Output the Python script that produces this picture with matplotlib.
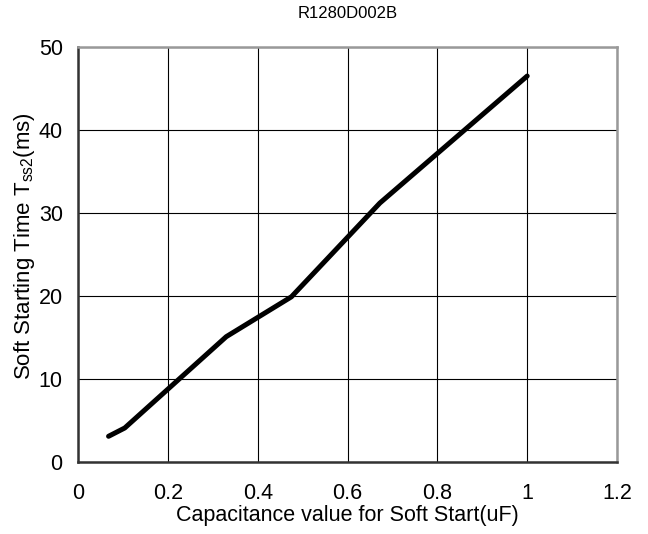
import matplotlib
matplotlib.use('Agg')
import matplotlib.pyplot as plt

plt.rcParams['font.family'] = ['Liberation Sans', 'DejaVu Sans']
plt.rcParams['mathtext.fontset'] = 'custom'
plt.rcParams['mathtext.rm'] = 'Liberation Sans'

# capacitance (uF) vs soft start time (ms)
cap = [0.068, 0.104, 0.33, 0.475, 0.672, 1.0]
tss = [3.1, 4.1, 15.1, 19.9, 31.2, 46.5]
xticks = [0, 0.2, 0.4, 0.6, 0.8, 1, 1.2]
xticklabels = ['0', '0.2', '0.4', '0.6', '0.8', '1', '1.2']
yticks = [0, 10, 20, 30, 40, 50]

fig = plt.figure(figsize=(6.48, 5.34), dpi=100)
ax = fig.add_axes([0.1204, 0.1348, 0.8318, 0.7772])

ax.plot(cap, tss, color='black', linewidth=3.6, solid_capstyle='round', solid_joinstyle='round', zorder=3)

ax.set_xlim(0, 1.2)
ax.set_ylim(0, 50)
ax.set_xticks(xticks)
ax.set_xticklabels(xticklabels)
ax.set_yticks(yticks)
ax.grid(True, color='black', linewidth=0.8)
ax.tick_params(length=0, labelsize=15.5)
ax.tick_params(axis='x', pad=15)
ax.tick_params(axis='y', pad=11)

for s in ['left', 'bottom']:
    ax.spines[s].set_color('#333333')
    ax.spines[s].set_linewidth(1.8)
for s in ['top', 'right']:
    ax.spines[s].set_color('#999999')
    ax.spines[s].set_linewidth(1.8)

ax.set_title('R1280D002B', fontsize=12, pad=21)
ax.set_xlabel('Capacitance value for Soft Start(uF)', fontsize=15.5, labelpad=1)
ax.set_ylabel(r'Soft Starting Time T$_{\mathregular{ss2}}$(ms)', fontsize=16)
ax.yaxis.set_label_coords(-0.076, 0.52)

fig.savefig('out.png', dpi=100)
